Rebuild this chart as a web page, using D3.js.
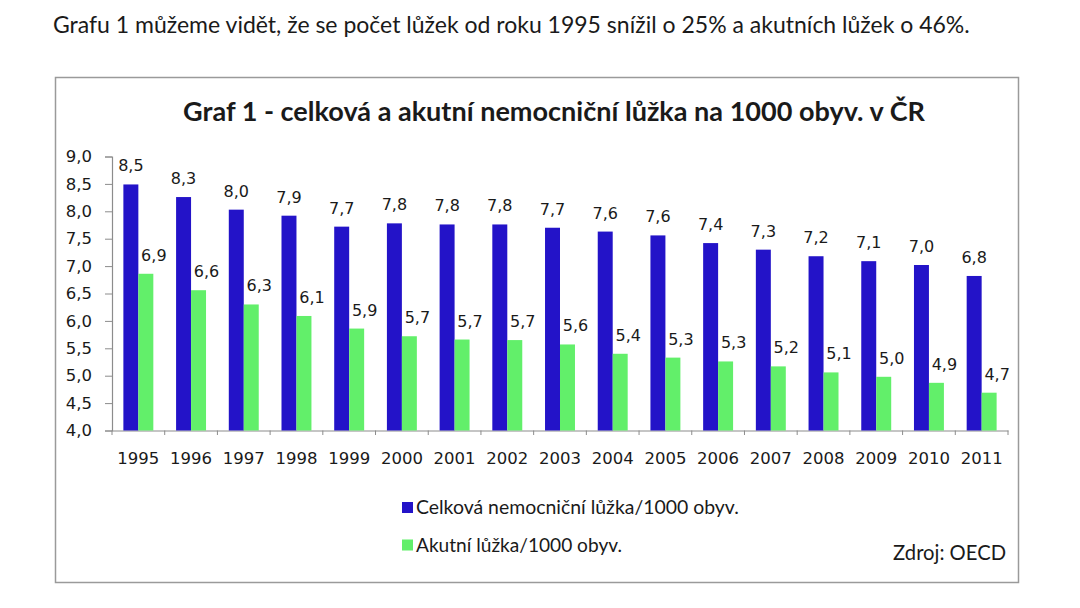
<!DOCTYPE html>
<html><head><meta charset="utf-8">
<script src="https://cdn.jsdelivr.net/npm/d3@7"></script>
<style>
html,body{margin:0;padding:0;background:#fff;}
svg{display:block;}
</style></head>
<body>
<svg id="c" width="1080" height="608"></svg>
<script>
const years = ["1995","1996","1997","1998","1999","2000","2001","2002","2003","2004","2005","2006","2007","2008","2009","2010","2011"];
const totalBeds = [8.49,8.26,8.03,7.92,7.72,7.78,7.76,7.76,7.70,7.63,7.56,7.42,7.30,7.18,7.09,7.02,6.82];
const acuteBeds = [6.86,6.56,6.30,6.09,5.86,5.72,5.66,5.65,5.57,5.40,5.33,5.26,5.17,5.06,4.98,4.87,4.69];
const seriesNames = ["Celková nemocniční lůžka/1000 obyv.","Akutní lůžka/1000 obyv."];
const yTicks = [4.0,4.5,5.0,5.5,6.0,6.5,7.0,7.5,8.0,8.5,9.0];
const introText = "Grafu 1 můžeme vidět, že se počet lůžek od roku 1995 snížil o 25% a akutních lůžek o 46%.";
const titleText = "Graf 1 - celková a akutní nemocniční lůžka na 1000 obyv. v ČR";
const sourceText = "Zdroj: OECD";

const colors = ["#2313c8","#62ef6a"];
const calibri = "Lato, 'Open Sans', sans-serif";
const numFont = "'DejaVu Sans', Verdana, sans-serif";

const svg = d3.select("#c");
const loc = d3.formatLocale({decimal:",", thousands:" ", grouping:[3], currency:["","Kč"]});
const f1 = loc.format(".1f");

// fit a text's width to target by adjusting font size
function fit(sel, w){
  const l = sel.node().getComputedTextLength();
  const fs = parseFloat(sel.attr("font-size"));
  sel.attr("font-size", (fs*w/l).toFixed(2));
}

// intro text
fit(svg.append("text").attr("x",53).attr("y",33)
  .attr("font-family",calibri).attr("font-size",20.5).attr("fill","#1a1a1a")
  .text(introText), 917);

// frame
svg.append("rect").attr("x",55.5).attr("y",77.5).attr("width",963).attr("height",505)
  .attr("fill","#fff").attr("stroke","#9a9a9a").attr("stroke-width",1.5);

// title
fit(svg.append("text").attr("x",554).attr("y",121).attr("text-anchor","middle")
  .attr("font-family",calibri).attr("font-weight","bold").attr("font-size",24.5).attr("fill","#1a1a1a")
  .text(titleText), 742);

const x = d3.scaleBand().domain(years).range([112,1008]).paddingInner(0).paddingOuter(0);
const xs = d3.scaleBand().domain([0,1]).range([0,x.bandwidth()]).paddingInner(0).paddingOuter(0.76);
const y = d3.scaleLinear().domain([4,9]).range([430.5,156.5]);

// y axis
const yAxis = d3.axisLeft(y).tickValues(yTicks).tickFormat(f1).tickSize(7).tickPadding(13);
const gy = svg.append("g").attr("transform","translate(112,0)").call(yAxis);
gy.select(".domain").attr("stroke","#8c8c8c").attr("stroke-width",1.2);
gy.selectAll(".tick line").attr("stroke","#8c8c8c");
gy.selectAll(".tick text").attr("font-family",numFont).attr("font-size",16.5).attr("fill","#1a1a1a");

// x axis
const xAxis = d3.axisBottom(x).tickSize(0).tickPadding(21.5);
const gx = svg.append("g").attr("transform","translate(0,430.5)").call(xAxis);
gx.select(".domain").attr("stroke","#8c8c8c").attr("stroke-width",1.2);
gx.selectAll(".tick text").attr("font-family",numFont).attr("font-size",16.5).attr("fill","#1a1a1a");
const bounds = years.map(d=>x(d)).concat([x.range()[1]]);
gx.selectAll("line.b").data(bounds).enter().append("line")
  .attr("x1",d=>d).attr("x2",d=>d).attr("y1",0).attr("y2",4.5).attr("stroke","#8c8c8c");

// bars
const data = [totalBeds, acuteBeds];
data.forEach((vals,si)=>{
  svg.append("g").selectAll("rect").data(vals).enter().append("rect")
    .attr("x",(d,i)=>x(years[i])+xs(si))
    .attr("width",xs.bandwidth())
    .attr("y",d=>y(d))
    .attr("height",d=>y(4)-y(d))
    .attr("fill",colors[si]);
  svg.append("g").selectAll("text").data(vals).enter().append("text")
    .attr("x",(d,i)=>x(years[i])+xs(si)+xs.bandwidth()/2+(si===1?8:0))
    .attr("y",d=>y(d)-13)
    .attr("text-anchor","middle")
    .attr("font-family",numFont).attr("font-size",16).attr("fill","#1a1a1a")
    .text(d=>f1(d));
});

// legend
const lg = svg.append("g");
const legW = [323, 206];
seriesNames.forEach((n,i)=>{
  const base = 514 + i*37.5;
  lg.append("rect").attr("x",402).attr("y",base-12).attr("width",11).attr("height",11).attr("fill",colors[i]);
  fit(lg.append("text").attr("x",416).attr("y",base)
    .attr("font-family",calibri).attr("font-size",17).attr("fill","#1a1a1a").text(n), legW[i]);
});

fit(svg.append("text").attr("x",1006).attr("y",560).attr("text-anchor","end")
  .attr("font-family",calibri).attr("font-size",18.5).attr("fill","#1a1a1a").text(sourceText), 113);
</script>
</body></html>
